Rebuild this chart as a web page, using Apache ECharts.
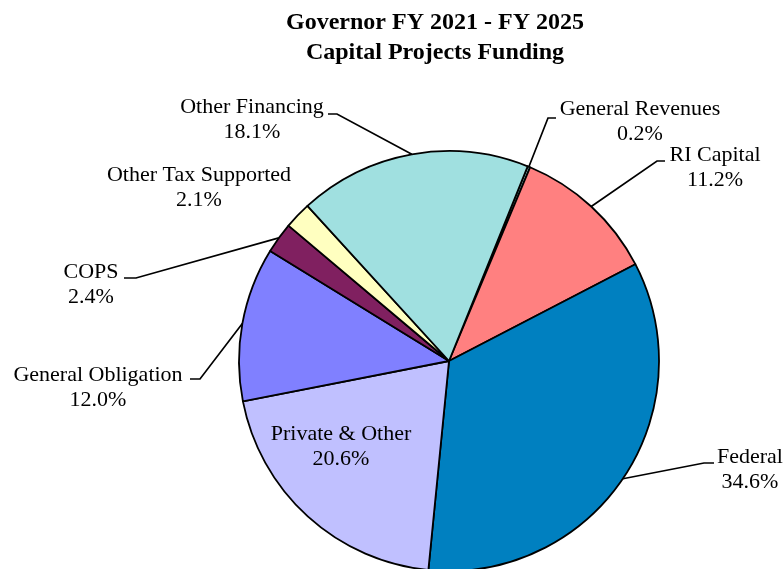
<!DOCTYPE html>
<html>
<head>
<meta charset="utf-8">
<script src="https://cdn.jsdelivr.net/npm/echarts@6/dist/echarts.min.js"></script>
<style>
html,body{margin:0;padding:0;background:#fff;}
#chart{width:784px;height:569px;}
</style>
</head>
<body>
<div id="chart"></div>
<script>
const titleLines = ['Governor FY 2021 - FY 2025', 'Capital Projects Funding'];
const categories = ['General Revenues', 'RI Capital', 'Federal', 'Private & Other', 'General Obligation', 'COPS', 'Other Tax Supported', 'Other Financing'];
const shares = [0.2, 11.2, 34.6, 20.6, 12.0, 2.4, 2.1, 18.1];
const colors = ['#A0E0E0', '#FF8080', '#0080C0', '#C0C0FF', '#8080FF', '#802060', '#FFFFC0', '#A0E0E0'];

// label placement (layout only)
const labelPos = [
  {x: 640, y: 122, elbow: [548, 118], end: [556, 118]},
  {x: 715, y: 168, elbow: [657, 161], end: [665, 161]},
  {x: 750, y: 470, elbow: [704, 463], end: [714, 463]},
  {x: 341, y: 447},
  {x: 98,  y: 388, elbow: [200, 379], end: [190, 379]},
  {x: 91,  y: 285, elbow: [136, 278], end: [124, 278]},
  {x: 199, y: 188},
  {x: 252, y: 120, elbow: [337, 114], end: [328, 114]}
];

const chart = echarts.init(document.getElementById('chart'), null, {renderer: 'canvas'});
const font = 'Liberation Serif, Times New Roman, serif';

chart.setOption({
  animation: false,
  backgroundColor: '#fff',
  title: {
    text: titleLines.join('\n'),
    left: 430,
    top: 3,
    textAlign: 'center',
    textStyle: {fontFamily: font, fontSize: 24, fontWeight: 'bold', color: '#000', lineHeight: 30}
  },
  series: [{
    type: 'pie',
    center: [449, 361],
    radius: 210,
    startAngle: 68,
    clockwise: true,
    avoidLabelOverlap: false,
    itemStyle: {borderColor: '#000', borderWidth: 1.8},
    label: {
      show: true,
      position: 'outside',
      fontFamily: font,
      fontSize: 22,
      lineHeight: 25,
      color: '#000',
      align: 'center',
      formatter: p => p.name + '\n' + p.value.toFixed(1) + '%'
    },
    labelLine: {show: true, lineStyle: {color: '#000', width: 1.7}},
    labelLayout: function (params) {
      const lp = labelPos[params.dataIndex];
      const out = {x: lp.x, y: lp.y, align: 'center', verticalAlign: 'middle'};
      if (lp.elbow && params.labelLinePoints && params.labelLinePoints.length) {
        out.labelLinePoints = [params.labelLinePoints[0], lp.elbow, lp.end];
      }
      return out;
    },
    data: categories.map((c, i) => ({
      name: c,
      value: shares[i],
      itemStyle: {color: colors[i]},
      labelLine: {show: !!labelPos[i].elbow}
    }))
  }]
});
</script>
</body>
</html>
